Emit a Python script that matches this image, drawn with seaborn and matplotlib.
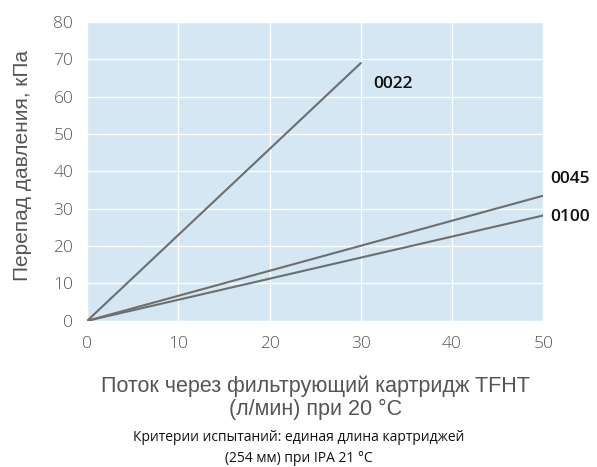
import matplotlib
matplotlib.use("Agg")
import matplotlib.pyplot as plt
import pandas as pd
import seaborn as sns

# Flow (l/min) vs pressure drop (kPa)
flow_0022 = [0, 30]
dp_0022 = [0, 69]
flow_0045 = [0, 50]
dp_0045 = [0, 33.5]
flow_0100 = [0, 50]
dp_0100 = [0, 28.2]

series_names = ["0022", "0045", "0100"]
x_ticks = [0, 10, 20, 30, 40, 50]
y_ticks = [0, 10, 20, 30, 40, 50, 60, 70, 80]

rows = []
for name, xs, ys in zip(series_names,
                        [flow_0022, flow_0045, flow_0100],
                        [dp_0022, dp_0045, dp_0100]):
    for x, y in zip(xs, ys):
        rows.append({"series": name, "flow": x, "dp": y})
df = pd.DataFrame(rows)

sns.set_style("white")
plt.rcParams["font.family"] = ["Open Sans", "DejaVu Sans"]

fig = plt.figure(figsize=(5.97, 4.67), dpi=100)
ax = fig.add_axes([0.146, 0.313, 0.764, 0.640])
ax.set_facecolor("#d4e7f2")

sns.lineplot(data=df, x="flow", y="dp", units="series", estimator=None,
             color="#6e6e6e", linewidth=1.5, ax=ax, legend=False)

ax.set_xlim(0, 50)
ax.set_ylim(0, 80)
ax.set_xticks(x_ticks)
ax.set_yticks(y_ticks)
ax.grid(True, color="white", linewidth=1.0)
ax.set_axisbelow(True)
for s in ax.spines.values():
    s.set_visible(False)
ax.tick_params(length=0, labelsize=12.5, labelcolor="#555555")
ax.tick_params(axis="x", pad=11)
ax.tick_params(axis="y", pad=10)
for lab in ax.get_xticklabels() + ax.get_yticklabels():
    lab.set_fontweight("light")

# series labels
label_pos = {"0022": (31.4, 63.5), "0045": (50.8, 38.0), "0100": (50.8, 27.8)}
for name in series_names:
    x, y = label_pos[name]
    ax.text(x, y, name, fontsize=12.5, fontweight="semibold", color="#111111",
            ha="left", va="center", clip_on=False)

ax.set_xlabel("Поток через фильтрующий картридж TFHT\n(л/мин) при 20 °C",
              fontsize=15.5, color="#555555", family=["Liberation Sans", "DejaVu Sans"],
              labelpad=17, linespacing=1.1)
ax.set_ylabel("Перепад давления, кПа", fontsize=15, color="#555555",
              family=["Liberation Sans", "DejaVu Sans"], labelpad=13)
ax.yaxis.set_label_coords(-0.12, 0.52)

fig.text(0.5, 0.041, "Критерии испытаний: единая длина картриджей\n(254 мм) при IPA 21 °C",
         ha="center", va="center", fontsize=10, color="#111111", linespacing=1.55)

fig.savefig("out.png", dpi=100)
